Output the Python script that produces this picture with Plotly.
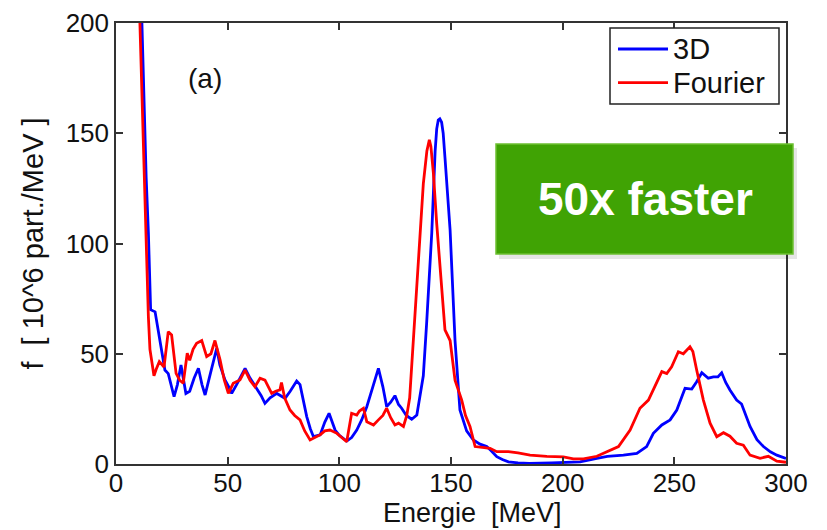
import plotly.graph_objects as go

# ---- data ----
x_3d = [11.6, 12.5, 13.5, 14.5, 15.2, 15.5, 17.5, 19, 21.9, 23.4, 24.5, 26, 27.5, 29.1, 31.3, 33, 35, 36.9,
        38.5, 39.9, 42, 45.1, 46.5, 48.8, 50.5, 51.8, 54, 56, 57.8, 60, 63, 65, 66.7, 69, 72, 74, 75.7, 78,
        80.9, 82.4, 84, 85.4, 87, 88.4, 91.4, 93.5, 95.4, 97, 98.1, 100, 103.3, 105.5, 107.8, 110, 112.3,
        115, 117.5, 119.5, 121.2, 123, 124.9, 126.5, 127.9, 130, 132.4, 134.7, 136.9, 137.6, 139.1, 141.4,
        142.9, 143.6, 144.3, 145.0, 145.8, 146.5, 147.3, 149.6, 151.8, 154, 157, 160, 163, 166, 168, 170.5,
        173, 175.7, 180, 185, 195, 207.8, 215.3, 220, 227.2, 233.2, 237.6, 240.6, 244.4, 248.1, 251.1,
        254.8, 257.8, 260, 262.3, 265.2, 267.5, 269.5, 271.2, 273, 274.9, 277.9, 280.1, 282, 283.9, 287,
        289.9, 293, 295.9, 300]
y_3d = [200, 165, 130, 105, 86, 70, 69, 60, 42.6, 41, 36, 30.5, 36, 44.9, 32, 33, 39, 43.4,
        36, 31.3, 40, 52.5, 45, 38.1, 35, 32, 36, 40, 43.4, 39, 34.3, 31, 27.5, 30, 32, 31, 29.8, 33,
        37.6, 36, 28, 21.5, 16, 12.4, 13.2, 19, 23, 19, 15.4, 13, 10.4, 12, 15.4, 20, 26,
        35, 43.4, 35, 26, 28, 31, 27, 25.3, 22, 20.3, 22.2, 35, 40, 64, 105,
        142, 152, 156, 156.5, 155, 150, 139, 106, 56, 24.5, 15, 10.9, 9, 7.9, 6, 3.3,
        2, 1, 0.5, 0.3, 0.5, 1, 2.6, 3.5, 4, 4.8, 7.9, 13.9, 17.7, 20, 24.5,
        34.3, 34, 37.3, 41.4, 38.9, 39.5, 39.5, 41.4, 37, 33.6, 29, 27.2, 22, 17, 11,
        7.9, 5.5, 4, 2.5]

x_fourier = [10.7, 11.8, 12.8, 13.7, 14.5, 15.2, 16, 17, 18, 19.4, 21.5, 22.5, 23.4, 24.9, 25.8, 26.9, 28.5,
             30.1, 31.9, 33, 34.5, 36.1, 38.4, 40.6, 42.5, 44.3, 46.6, 48.5, 50.3, 52.5, 55.5, 57.8, 60,
             62.2, 64.5, 66.7, 69.7, 71.5, 73.4, 74.1, 75.5, 77.9, 80, 82.4, 84.5, 86.9, 89, 91.4, 93.5,
             95.8, 98.9, 101, 103.3, 105.5, 107.8, 109, 110.8, 112.3, 113.8, 115.3, 117.5, 119.5, 121.2,
             123, 124.9, 126.5, 128.7, 130.2, 131.5, 133.1, 135.4, 137.6, 139.2, 140.3, 141.0, 142.1, 143.6,
             145.1, 146.2, 147.3, 149.6, 151.8, 154.8, 156.5, 158.5, 160.8, 164, 167.5, 170.5, 175.7, 180,
             185.4, 192.9, 200.3, 204.8, 209.3, 215.3, 219.7, 225, 230.2, 234.6, 238.4, 242.1, 244.4,
             246.6, 248.8, 251.8, 254, 257, 258.3, 260, 263, 266, 269, 272, 274.9, 277.9, 280.9, 283.9,
             286, 288.4, 292.1, 295.9, 300]
y_fourier = [200, 160, 125, 97, 66.8, 52, 45.7, 40, 43, 46.4, 44, 52, 60, 58.5, 50, 41.1, 38,
             36.6, 50.2, 47, 52, 54.7, 56, 48.7, 50, 56, 47.2, 38, 32, 36.6, 38.1, 42.6, 38,
             35, 38.9, 38, 32, 33, 33.6, 37, 30, 24.5, 22, 20, 15, 10.9, 12, 13.2, 15,
             15.4, 13.9, 12, 10.1, 23, 22.2, 24, 25.3, 19.2, 18.5, 17.7, 20, 22, 25.3,
             21, 17.7, 18.5, 17, 22, 30, 56, 94, 127, 142, 147, 144, 132, 109,
             91, 78, 60.8, 56, 38, 29, 22, 17, 7.9, 7.5, 7.1, 5.6, 5.6, 5,
             4, 3.5, 3.2, 2.3, 2.3, 3.5, 5.6, 7.9, 15.4, 25.3, 29, 36.6, 41.9,
             41, 44.1, 50.9, 50, 53.2, 51, 42.6, 29, 18.5, 12.4, 14.2, 12.6, 9.4, 8.5, 4,
             3.5, 2.6, 3.5, 1.3, 0.8]

series_names = ["3D", "Fourier"]
series_colors = ["#0000FF", "#FF0000"]
x_ticks = [0, 50, 100, 150, 200, 250, 300]
y_ticks = [0, 50, 100, 150, 200]
x_title = "Energie  [MeV]"
y_title = "f  [ 10^6 part./MeV ]"
panel_label = "(a)"
badge_text = "50x faster"

FONT = "Liberation Sans, Arial, sans-serif"
TXT = "#111111"


def px2x(px):
    return (px - 116) / 670.0


def py2y(py):
    return (464 - py) / 441.0


fig = go.Figure()
fig.add_trace(go.Scatter(x=x_3d, y=y_3d, mode="lines", name=series_names[0], showlegend=False,
                         line=dict(color=series_colors[0], width=2.8)))
fig.add_trace(go.Scatter(x=x_fourier, y=y_fourier, mode="lines", name=series_names[1], showlegend=False,
                         line=dict(color=series_colors[1], width=2.8)))

axis_common = dict(showgrid=False, zeroline=False, showline=True, linecolor="#333333", linewidth=1.5,
                   mirror="ticks", ticks="inside", ticklen=7, tickwidth=1.5, tickcolor="#333333",
                   automargin=False, tickfont=dict(family=FONT, size=26, color=TXT))

fig.update_xaxes(range=[0, 300], tickvals=x_ticks, ticktext=[str(v) for v in x_ticks],
                 ticklabelstandoff=-5, **axis_common)
fig.update_yaxes(range=[0, 200], tickvals=y_ticks, ticktext=[str(v) for v in y_ticks],
                 title=dict(text=y_title, font=dict(family=FONT, size=29, color=TXT), standoff=14),
                 **axis_common)

# x-axis title as a paper annotation for precise placement
fig.add_annotation(xref="paper", yref="paper", x=px2x(472), y=py2y(529), text=x_title, showarrow=False,
                   xanchor="center", yanchor="bottom", borderpad=0,
                   font=dict(family=FONT, size=27, color=TXT))

# ---- manual legend ----
fig.add_shape(type="rect", xref="paper", yref="paper", x0=px2x(610), x1=px2x(779), y0=py2y(104), y1=py2y(28),
              fillcolor="white", line=dict(color="#222222", width=1.5), layer="above")
for i, (nm, col) in enumerate(zip(series_names, series_colors)):
    yy = py2y(49 + i * 33.7)
    fig.add_shape(type="line", xref="paper", yref="paper", x0=px2x(618), x1=px2x(668), y0=yy, y1=yy,
                  line=dict(color=col, width=2.8), layer="above")
    fig.add_annotation(xref="paper", yref="paper", x=px2x(671), y=yy, text=nm, showarrow=False,
                       xanchor="left", yanchor="middle", font=dict(family=FONT, size=29, color=TXT))

# ---- badge shadow + box ----
fig.add_shape(type="rect", xref="paper", yref="paper", x0=px2x(499), x1=px2x(797), y0=py2y(259), y1=py2y(148),
              fillcolor="rgba(0,0,0,0.10)", line=dict(width=0), layer="above")
fig.add_shape(type="rect", xref="paper", yref="paper", x0=px2x(496), x1=px2x(793), y0=py2y(254), y1=py2y(144),
              fillcolor="#40A304", line=dict(color="#6CC030", width=1.5), layer="above")
fig.add_annotation(xref="paper", yref="paper", x=px2x(645), y=py2y(199), text="<b>" + badge_text + "</b>",
                   showarrow=False, xanchor="center", yanchor="middle",
                   font=dict(family=FONT, size=46, color="white"))

fig.add_annotation(x=40, y=175, text=panel_label, showarrow=False, xanchor="center", yanchor="middle",
                   font=dict(family=FONT, size=28, color=TXT))

fig.update_layout(
    width=827, height=530,
    margin=dict(l=116, r=41, t=23, b=66),
    paper_bgcolor="white", plot_bgcolor="white",
    font=dict(family=FONT, color=TXT),
    showlegend=False,
)

fig.write_html("out.html")
